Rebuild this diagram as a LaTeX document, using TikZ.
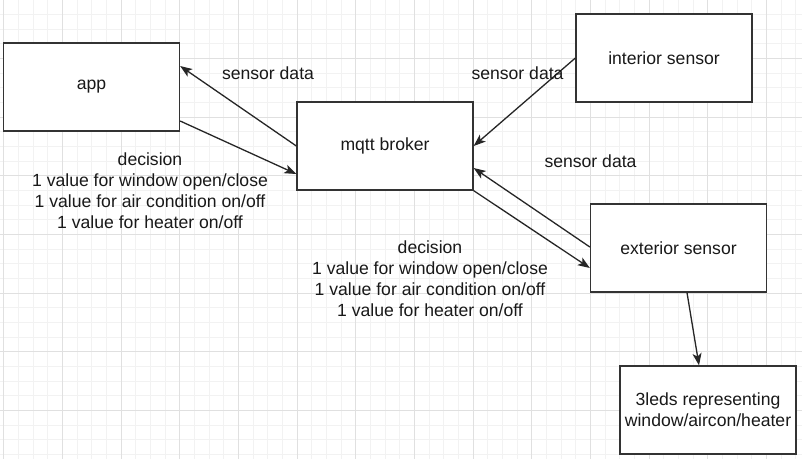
\documentclass[tikz,border=0pt]{standalone}
\usepackage{fontspec}
\setmainfont{Liberation Sans}
\usetikzlibrary{arrows.meta}

\begin{document}
\begin{tikzpicture}[x=1pt, y=-1pt,
  every node/.style={font=\fontsize{17.6}{21}\selectfont, text=black!90},
  box/.style={draw=black!80, line width=1.3pt, minimum width=176pt, minimum height=88pt, align=center, inner sep=0pt},
  link/.style={draw=black!85, line width=1.3pt, -{Stealth[length=12pt, width=9pt, inset=3pt]}},
  lbl/.style={align=center, inner sep=0pt},
  gridminor/.style={draw=black!5, line width=0.8pt},
  gridmajor/.style={draw=black!12, line width=0.8pt}]
  \fill[white] (0,0) rectangle (802,459);
  \useasboundingbox (0,0) rectangle (802,459);
  % grid
  \foreach \i in {0,...,54} \draw[gridminor] ({3.7+14.667*\i},0) -- ({3.7+14.667*\i},459);
  \foreach \j in {0,...,31} \draw[gridminor] (0,{-0.3+14.667*\j}) -- (802,{-0.3+14.667*\j});
  \foreach \i in {0,...,13} \draw[gridmajor] ({3.7+58.667*\i},0) -- ({3.7+58.667*\i},459);
  \foreach \j in {0,...,7} \draw[gridmajor] (0,{-0.3+58.667*\j}) -- (802,{-0.3+58.667*\j});

  % boxes
  \node[box, fill=white] (app) at (91.5, 87) {app};
  \node[box, fill=white] (broker) at (385, 146) {mqtt broker};
  \node[box, fill=white] (interior) at (664, 58) {interior sensor};
  \node[box, fill=white] (exterior) at (678.5, 248) {exterior sensor};
  \node[box, fill=white] (leds) at (708, 410) {3leds representing\\window/aircon/heater};

  % connectors
  \draw[link] (broker.west) -- ([yshift=21pt]app.east);
  \draw[link] ([yshift=-34pt]app.east) -- ([yshift=-28pt]broker.west);
  \draw[link] (interior.west) -- (broker.east);
  \draw[link] ([yshift=1pt]exterior.west) -- ([yshift=-22pt]broker.east);
  \draw[link] (broker.south east) -- ([yshift=-20pt]exterior.west);
  \draw[link] ([xshift=8.5pt]exterior.south) -- ([xshift=-9pt]leds.north);

  % labels
  \node[lbl] (sd1) at (268, 73) {sensor data};
  \node[lbl] (sd2) at (517.5, 73) {sensor data};
  \node[lbl] (sd3) at (590.5, 161) {sensor data};
  \node[lbl] (dec1) at (150, 190.5) {decision\\1 value for window open/close\\1 value for air condition on/off\\1 value for heater on/off};
  \node[lbl] (dec2) at (430, 278.5) {decision\\1 value for window open/close\\1 value for air condition on/off\\1 value for heater on/off};
\end{tikzpicture}
\end{document}
